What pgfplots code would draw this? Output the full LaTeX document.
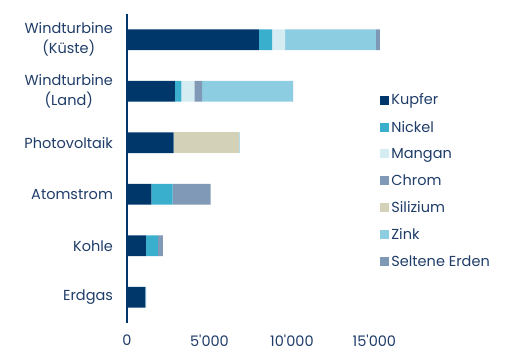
\documentclass[border=0pt]{standalone}
\usepackage{pgfplots}
\pgfplotsset{compat=1.18}
\usepackage{fontspec}
\setmainfont{Poppins}
\definecolor{txt}{HTML}{1F3D68}
\definecolor{kupfer}{HTML}{00376B}
\definecolor{nickel}{HTML}{3AAECD}
\definecolor{mangan}{HTML}{D6ECF3}
\definecolor{chrom}{HTML}{8099B6}
\definecolor{silizium}{HTML}{D3D1B7}
\definecolor{zink}{HTML}{8DCDE2}
\definecolor{seltene}{HTML}{7F98B5}
\begin{document}
\begin{tikzpicture}
\fontsize{14.5}{20}\selectfont
\useasboundingbox (-127pt,-40pt) rectangle (382pt,323pt);
\begin{axis}[
  at={(0,0)}, anchor=south west,
  xbar stacked,
  scale only axis,
  width=254pt, height=309pt,
  xmin=0, xmax=15400,
  ymin=-0.5, ymax=5.5,
  bar width=20.7pt,
  scaled x ticks=false,
  ytick={0,1,2,3,4,5},
  yticklabels={Erdgas,Kohle,Atomstrom,Photovoltaik,{Windturbine\\(Land)},{Windturbine\\(Küste)}},
  yticklabel style={align=center, font=\fontsize{14.5}{20}\selectfont, text=txt, xshift=-9pt},
  xtick={0,5000,10000,15000},
  xticklabels={0,5\textquotesingle000,10\textquotesingle000,15\textquotesingle000},
  xticklabel style={font=\fontsize{14.5}{16}\selectfont, text=txt, yshift=-7pt},
  major tick length=0pt,
  axis lines=left,
  axis line style={-},
  x axis line style={draw=none},
  y axis line style={draw=kupfer, line width=1.3pt},
  axis on top,
  legend style={draw=none, fill=none, at={(0.985,0.755)}, anchor=north west,
    font=\fontsize{14.5}{16}\selectfont, text=txt, row sep=10pt,
    /tikz/every even column/.append style={column sep=1pt}},
  legend cell align=left,
  legend image code/.code={\fill[#1] (0pt,-4pt) rectangle (9pt,5pt);},
]
\addplot[fill=kupfer, draw=none] coordinates {(1100,0) (1150,1) (1473,2) (2822,3) (2900,4) (8000,5)};
\addplot[fill=nickel, draw=none] coordinates {(16,0) (721,1) (1297,2) (0,3) (404,4) (800,5)};
\addplot[fill=mangan, draw=none] coordinates {(0,0) (0,1) (0,2) (0,3) (780,4) (790,5)};
\addplot[fill=chrom, draw=none] coordinates {(48,0) (308,1) (2300,2) (0,3) (470,4) (0,5)};
\addplot[fill=silizium, draw=none] coordinates {(0,0) (0,1) (0,2) (3995,3) (0,4) (0,5)};
\addplot[fill=zink, draw=none] coordinates {(0,0) (0,1) (0,2) (30,3) (5500,4) (5500,5)};
\addplot[fill=seltene, draw=none] coordinates {(0,0) (0,1) (0,2) (0,3) (14,4) (239,5)};
\legend{Kupfer,Nickel,Mangan,Chrom,Silizium,Zink,Seltene Erden}
\end{axis}
\end{tikzpicture}
\end{document}
